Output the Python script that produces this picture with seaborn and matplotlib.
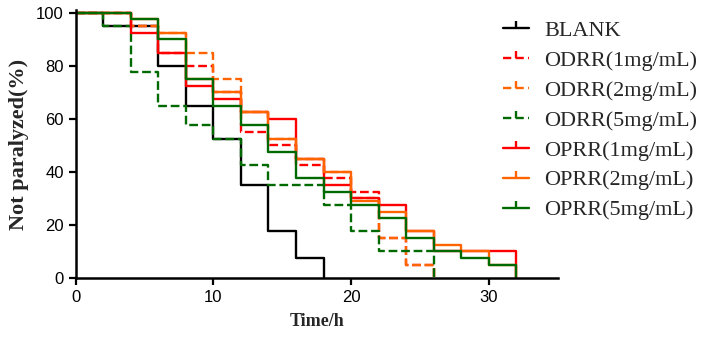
import numpy as np
import pandas as pd
import matplotlib
matplotlib.use("Agg")
import matplotlib.pyplot as plt
from matplotlib.lines import Line2D
import seaborn as sns

# Survival steps (time in h, % not paralyzed)
blank_t = [0, 2, 6, 8, 10, 12, 14, 16, 18]
blank_v = [100, 95, 80, 65, 52.5, 35, 17.5, 7.5, 0]

odrr1_t = [0, 4, 6, 8, 10, 12, 14, 16, 18, 20, 22, 24, 26]
odrr1_v = [100, 95, 85, 80, 70, 55, 50, 42.5, 37.5, 32.5, 15, 5, 0]

odrr2_t = [0, 4, 6, 8, 10, 12, 14, 16, 18, 20, 22, 24, 26]
odrr2_v = [100, 95, 92.5, 85, 75, 62.5, 52.5, 45, 40, 30, 15, 5, 0]

odrr5_t = [0, 2, 4, 6, 8, 10, 12, 14, 18, 20, 22, 26]
odrr5_v = [100, 95, 77.5, 65, 57.5, 52.5, 42.5, 35, 27.5, 17.5, 10, 0]

oprr1_t = [0, 4, 6, 8, 10, 12, 14, 16, 18, 20, 22, 24, 26, 32]
oprr1_v = [100, 92.5, 85, 72.5, 67.5, 62.5, 60, 45, 35, 30, 27.5, 17.5, 10, 0]

oprr2_t = [0, 4, 6, 8, 10, 12, 14, 16, 18, 20, 22, 24, 26, 28, 30, 32]
oprr2_v = [100, 97.5, 92.5, 75, 70, 62.5, 52.5, 45, 40, 29, 25, 17.5, 12.5, 10, 5, 0]

oprr5_t = [0, 4, 6, 8, 10, 12, 14, 16, 18, 20, 22, 24, 26, 28, 30, 32]
oprr5_v = [100, 97.5, 90, 75, 65, 57.5, 47.5, 37.5, 32.5, 27.5, 22.5, 15, 10, 7.5, 5, 0]

groups = ['BLANK', 'ODRR(1mg/mL)', 'ODRR(2mg/mL)', 'ODRR(5mg/mL)',
          'OPRR(1mg/mL)', 'OPRR(2mg/mL)', 'OPRR(5mg/mL)']
times = [blank_t, odrr1_t, odrr2_t, odrr5_t, oprr1_t, oprr2_t, oprr5_t]
values = [blank_v, odrr1_v, odrr2_v, odrr5_v, oprr1_v, oprr2_v, oprr5_v]

colors = ['black', '#ff0000', '#ff6400', '#006a00', '#ff0000', '#ff6400', '#006a00']
styles = ['-', '--', '--', '--', '-', '-', '-']

sns.set_style('ticks')
plt.rcParams['font.family'] = ['Liberation Sans', 'DejaVu Sans']

fig = plt.figure(figsize=(7.06, 3.4), dpi=100)
ax = fig.add_axes([0.107, 0.183, 0.683, 0.787])

handles = []
for g, t, v, c, ls in zip(groups, times, values, colors, styles):
    d = pd.DataFrame({'t': t, 'v': v})
    kw = dict(dashes=(3.5, 1.8)) if ls == '--' else {}
    sns.lineplot(data=d, x='t', y='v', ax=ax, color=c, linestyle=ls,
                 drawstyle='steps-post', linewidth=1.7, estimator=None, **kw)
    handles.append(Line2D([0], [0], color=c, linestyle=ls, linewidth=1.7,
                          marker=2, markersize=5, markeredgewidth=1.7, **kw))

ax.set_xlim(0, 35)
ax.set_ylim(0, 101)
ax.set_xticks([0, 10, 20, 30])
ax.set_yticks([0, 20, 40, 60, 80, 100])
ax.tick_params(axis='both', direction='out', length=5, width=1.6,
               labelsize=12, colors='black')
for s in ['left', 'bottom']:
    ax.spines[s].set_linewidth(1.8)
    ax.spines[s].set_color('black')
sns.despine(ax=ax)

ax.set_xlabel('Time/h', fontsize=13, fontweight='bold', family='Liberation Serif', labelpad=6)
ax.set_ylabel('Not paralyzed(%)', fontsize=16, fontweight='bold', family='Liberation Serif', labelpad=5)

leg = fig.legend(handles, groups, loc='upper left', bbox_to_anchor=(0.713, 0.94),
                 frameon=False, handlelength=1.15, handletextpad=0.7,
                 borderpad=0, borderaxespad=0, labelspacing=0.42,
                 prop={'family': 'Liberation Serif', 'size': 16})

plt.savefig('out.png', dpi=100)
